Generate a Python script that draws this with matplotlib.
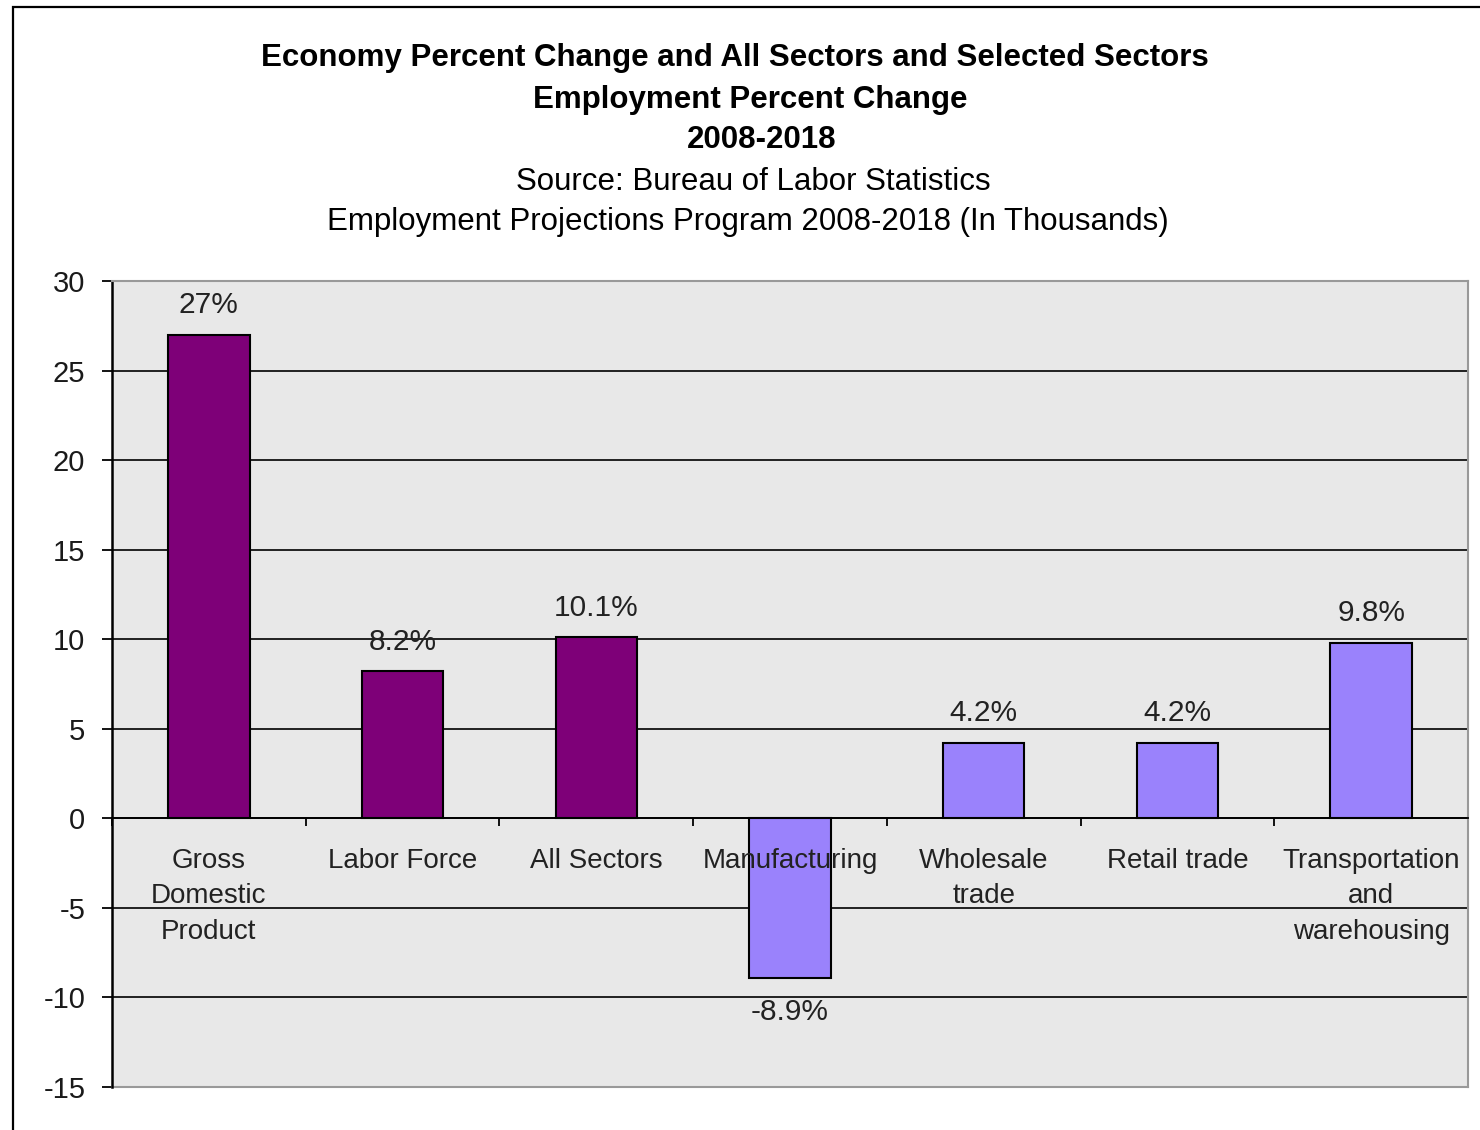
import matplotlib
matplotlib.use("Agg")
import matplotlib.pyplot as plt
from matplotlib.patches import Rectangle
import numpy as np

plt.rcParams['font.family'] = ['Liberation Sans', 'DejaVu Sans']

categories = ["Gross\nDomestic\nProduct", "Labor Force", "All Sectors", "Manufacturing",
              "Wholesale\ntrade", "Retail trade", "Transportation\nand\nwarehousing"]
values = [27, 8.2, 10.1, -8.9, 4.2, 4.2, 9.8]
value_labels = ["27%", "8.2%", "10.1%", "-8.9%", "4.2%", "4.2%", "9.8%"]
bar_colors = ["#7e0078", "#7e0078", "#7e0078", "#9a82fc", "#9a82fc", "#9a82fc", "#9a82fc"]
yticks = [-15, -10, -5, 0, 5, 10, 15, 20, 25, 30]

W, H = 1480, 1130
fig = plt.figure(figsize=(W / 100, H / 100), dpi=100)
fig.patch.set_facecolor("white")

# outer border (left and top visible)
fig.patches.append(Rectangle((13 / W, -0.1), 2.0, 1.1 - 7 / H, transform=fig.transFigure,
                             fill=False, edgecolor="black", linewidth=1.6, zorder=0))

ax = fig.add_axes([112 / W, 1 - 1087 / H, (1468 - 112) / W, (1087 - 281) / H])
ax.set_facecolor("#e8e8e8")

x = np.arange(len(categories))
bars = ax.bar(x, values, width=0.42, color=bar_colors, edgecolor="black", linewidth=1.5, zorder=3)

ax.set_xlim(-0.5, len(categories) - 0.5)
ax.set_ylim(-15, 30)
ax.set_yticks(yticks)
ax.set_yticklabels([str(v) for v in yticks], fontsize=21, color="#1a1a1a")
ax.tick_params(axis='y', length=7.2, width=1.3, direction='out', pad=12)

for v in yticks:
    if v not in (-15, 30):
        ax.axhline(v, color="black", linewidth=1.2, zorder=1)

# x axis at zero
ax.spines['bottom'].set_position(('data', 0))
ax.spines['bottom'].set_color("black")
ax.spines['bottom'].set_linewidth(1.3)
ax.spines['left'].set_color("black")
ax.spines['left'].set_linewidth(1.8)
for s in ('top', 'right'):
    ax.spines[s].set_color("#999999")
    ax.spines[s].set_linewidth(1.5)
ax.plot([0, 1], [0, 0], transform=ax.transAxes, color="#999999", linewidth=1.5, clip_on=False, zorder=2)

ax.set_xticks(np.arange(len(categories) + 1) - 0.5)
ax.set_xticklabels([])
ax.tick_params(axis='x', length=6, width=1.3, direction='out')

# category labels drawn on top of bars
for xi, cat in zip(x, categories):
    ax.annotate(cat, (xi, 0), xytext=(0, -21), textcoords="offset points",
                ha="center", va="top", fontsize=20, color="#222222",
                linespacing=1.48, zorder=6)

for rect, v, lab in zip(bars, values, value_labels):
    cx = rect.get_x() + rect.get_width() / 2
    off = 21.5 if v >= 0 else -25
    ax.annotate(lab, (cx, v), xytext=(0, off), textcoords="offset points",
                ha="center", va="center", fontsize=21.5, color="#222222", zorder=5)

# titles
title_lines = [
    ("Economy Percent Change and All Sectors and Selected Sectors", 735, 58, "bold"),
    ("Employment Percent Change", 750, 100, "bold"),
    ("2008-2018", 762, 140, "bold"),
    ("Source: Bureau of Labor Statistics", 753, 182, "normal"),
    ("Employment Projections Program 2008-2018 (In Thousands)", 748, 222, "normal"),
]
for txt, px, py, wt in title_lines:
    fig.text(px / W, 1 - py / H, txt, ha="center", va="center", fontsize=22.5,
             fontweight=wt, color="black")

fig.savefig("out.png", dpi=100)
